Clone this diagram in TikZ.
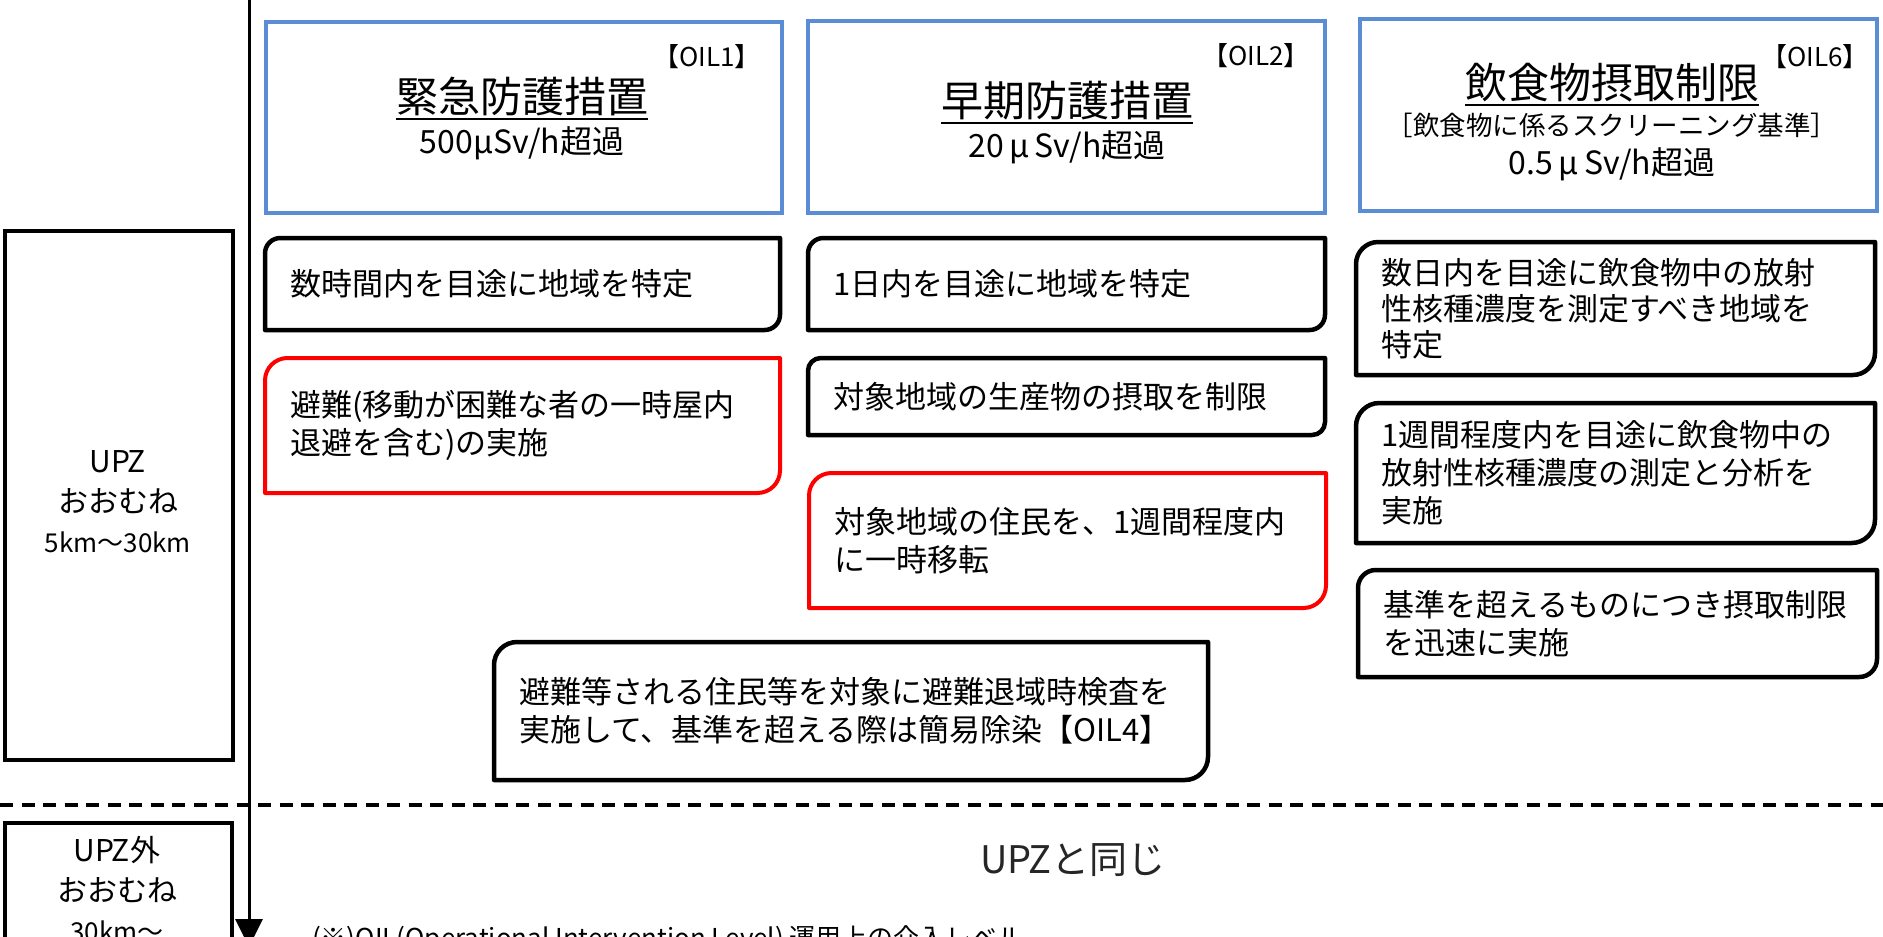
\documentclass[tikz,border=0pt]{standalone}
\usepackage{fontspec}
\setmainfont{Noto Sans CJK JP}
\usetikzlibrary{arrows.meta}
\usetikzlibrary{calc}
\definecolor{oilBlue}{RGB}{91,141,214}
\definecolor{sameGray}{gray}{0.15}

\newcommand{\diagFrame}[2]{%
	\draw[#2] let \p1=(#1.north west), \p2=(#1.south east), \n1={0.1667*(\y1-\y2)} in
		(\x2,\y1) -- (\x1+\n1,\y1) arc[start angle=90,end angle=180,radius=\n1]
		-- (\x1,\y2) -- (\x2-\n1,\y2) arc[start angle=270,end angle=360,radius=\n1] -- cycle;}

\tikzset{
	actBox/.style={anchor=north west, inner xsep=25pt, inner ysep=0pt, outer sep=0pt, align=left, font=\fontsize{31}{38}\selectfont},
	frameBlack/.style={draw=black, line width=4.5pt, line join=round},
	frameRed/.style={draw=red, line width=4pt, line join=round},
	oilBox/.style={draw=oilBlue, line width=4.5pt, anchor=north west, outer sep=0pt, inner sep=0pt},
	oilTitle/.style={inner sep=0pt, font=\fontsize{42}{50}\selectfont},
	oilRate/.style={inner sep=0pt, font=\fontsize{32}{38}\selectfont},
	oilTag/.style={inner sep=0pt, font=\fontsize{26}{30}\selectfont},
	titleRule/.style={line width=2.2pt},
	zoneBox/.style={draw=black, line width=4pt, anchor=north west, outer sep=0pt, inner sep=0pt},
	zoneText/.style={align=center, inner sep=0pt, font=\fontsize{30}{40}\selectfont}
}

\begin{document}
\begin{tikzpicture}[x=1pt,y=1pt]
\useasboundingbox (0,0) rectangle (1883,-937);
\clip (0,0) rectangle (1883,-937);
%
\node[zoneBox, minimum width=228pt, minimum height=529pt] (upzBox) at (5,-231) {};
\node[zoneText] (upzText) at (118,-502) {UPZ\\おおむね\\{\fontsize{26}{40}\selectfont 5km～30km}};
\node[zoneBox, minimum width=227pt, minimum height=140pt] (outBox) at (5,-823) {};
\node[zoneText] (outText) at (117,-889) {UPZ外\\おおむね\\{\fontsize{26}{40}\selectfont 30km～}};
%
\coordinate (sepWest) at (0,-805);
\coordinate (sepEast) at (1883,-805);
\draw[line width=4pt, dash pattern=on 13pt off 8.5pt] (sepWest) -- (sepEast);
\coordinate (axisTop) at (249,2);
\coordinate (axisEnd) at (249,-947);
\draw[line width=3pt, -{Triangle[width=27pt,length=28pt]}] (axisTop) -- (axisEnd);
%
\node[oilBox, minimum width=516pt, minimum height=191pt] (oil1) at (266,-22) {};
\node[oilTitle] (oil1Title) at (522,-97) {緊急防護措置};
\node[oilRate, below of=oil1Title, node distance=46pt] (oil1Rate) {500µSv/h超過};
\node[oilTag] (oil1Tag) at (707,-57) {【OIL1】};
\draw[titleRule] ([yshift=-2pt]oil1Title.south west) -- ([yshift=-2pt]oil1Title.south east);
\node[oilBox, minimum width=517pt, minimum height=192pt] (oil2) at (808,-21) {};
\node[oilTitle] (oil2Title) at (1067,-101) {早期防護措置};
\node[oilRate, below of=oil2Title, node distance=46pt] (oil2Rate) {20\,μ\,Sv/h超過};
\node[oilTag] (oil2Tag) at (1256,-56) {【OIL2】};
\draw[titleRule] ([yshift=-2pt]oil2Title.south west) -- ([yshift=-2pt]oil2Title.south east);
\node[oilBox, minimum width=517pt, minimum height=192pt] (oil6) at (1360,-19) {};
\node[oilTitle] (oil6Title) at (1612,-83) {飲食物摂取制限};
\node[inner sep=0pt, font=\fontsize{26.5}{30}\selectfont, below of=oil6Title, node distance=42pt] (oil6Screen) {［飲食物に係るスクリーニング基準］};
\node[oilRate, below of=oil6Screen, node distance=39pt] (oil6Rate) {0.5\,μ\,Sv/h超過};
\node[oilTag] (oil6Tag) at (1815,-57) {【OIL6】};
\draw[titleRule] ([yshift=-2pt]oil6Title.south west) -- ([yshift=-2pt]oil6Title.south east);
%
\node[actBox, text width=465pt, minimum height=92pt] (hourArea) at (265,-238) {数時間内を目途に地域を特定};
\diagFrame{hourArea}{frameBlack}
\node[actBox, text width=465pt, minimum height=135pt] (evacuate) at (265,-358) {避難(移動が困難な者の一時屋内\\退避を含む)の実施};
\diagFrame{evacuate}{frameRed}
\node[actBox, text width=467pt, minimum height=92pt] (dayArea) at (808,-238) {1日内を目途に地域を特定};
\diagFrame{dayArea}{frameBlack}
\node[actBox, text width=467pt, minimum height=77pt] (produce) at (808,-358) {対象地域の生産物の摂取を制限};
\diagFrame{produce}{frameBlack}
\node[actBox, text width=467pt, minimum height=135pt] (relocate) at (809,-473) {対象地域の住民を、1週間程度内\\に一時移転};
\diagFrame{relocate}{frameRed}
\node[actBox, text width=469pt, minimum height=133pt, font=\fontsize{31}{36}\selectfont] (foodArea) at (1356,-242) {数日内を目途に飲食物中の放射\\性核種濃度を測定すべき地域を\\特定};
\diagFrame{foodArea}{frameBlack}
\node[actBox, text width=469pt, minimum height=140pt] (foodTest) at (1356,-403) {1週間程度内を目途に飲食物中の\\放射性核種濃度の測定と分析を\\実施};
\diagFrame{foodTest}{frameBlack}
\node[actBox, text width=469pt, minimum height=107pt] (foodLimit) at (1358,-570) {基準を超えるものにつき摂取制限\\を迅速に実施};
\diagFrame{foodLimit}{frameBlack}
\node[actBox, text width=664pt, minimum height=138pt] (screening) at (494,-642) {避難等される住民等を対象に避難退域時検査を\\実施して、基準を超える際は簡易除染【OIL4】};
\diagFrame{screening}{frameBlack}
%
\node[font=\fontsize{38}{44}\selectfont, text=sameGray] (sameAsUpz) at (1073,-860) {UPZと同じ};
\node[anchor=base west, inner sep=0pt, font=\fontsize{26}{30}\selectfont] (oilNote) at (312,-947) {(※)OIL(Operational Intervention Level) 運用上の介入レベル};
%
\end{tikzpicture}
\end{document}
